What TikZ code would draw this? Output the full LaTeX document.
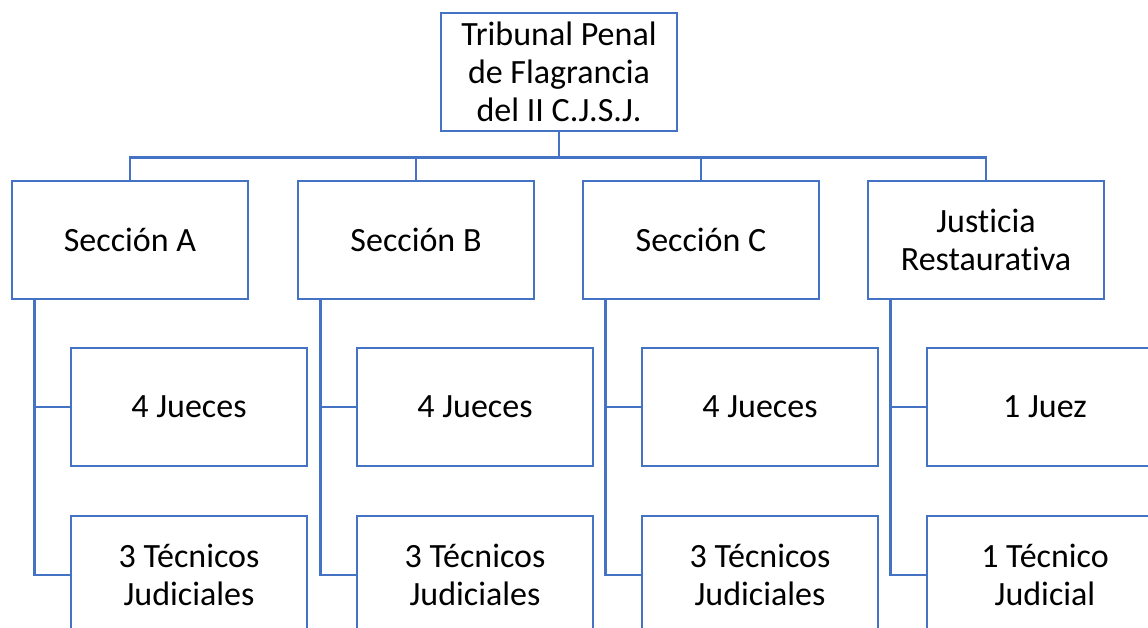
\documentclass[tikz,border=0pt]{standalone}
\usepackage{fontspec}
\setmainfont{Carlito}[Ligatures=NoCommon]
\usetikzlibrary{positioning}
\definecolor{orgblue}{HTML}{4472C4}

\begin{document}
\begin{tikzpicture}[x=1pt,y=-1pt,node distance=168pt,on grid,
    box/.style={draw=orgblue,line width=2.6pt,fill=white,minimum width=236pt,minimum height=118pt,
      inner sep=0pt,align=center,font=\fontsize{34}{38}\selectfont},
    link/.style={draw=orgblue,line width=2.6pt}]
  \useasboundingbox (0,0) rectangle (1148,628);
  \clip (0,0) rectangle (1148,628);
  % head
  \node[box] (head) at (559,72) {Tribunal Penal\\de Flagrancia\\del II C.J.S.J.};
  % sections
  \node[box] (secA) at (130,240) {Sección A};
  \node[box] (secB) [right=286pt of secA] {Sección B};
  \node[box] (secC) [right=285pt of secB] {Sección C};
  \node[box] (secD) [right=285pt of secC] {Justicia\\Restaurativa};
  % staff
  \node[box] (judA) [below right=167pt and 59pt of secA] {4 Jueces};
  \node[box] (tecA) [below=of judA] {3 Técnicos\\Judiciales};
  \node[box] (judB) [below right=167pt and 59pt of secB] {4 Jueces};
  \node[box] (tecB) [below=of judB] {3 Técnicos\\Judiciales};
  \node[box] (judC) [below right=167pt and 59pt of secC] {4 Jueces};
  \node[box] (tecC) [below=of judC] {3 Técnicos\\Judiciales};
  \node[box] (judD) [below right=167pt and 59pt of secD] {1 Juez};
  \node[box] (tecD) [below=of judD] {1 Técnico\\Judicial};
  % connectors
  \foreach \s in {secA,secB,secC,secD}
    \draw[link] (head.south) -- ++(0,25) -| (\s.north);
  \foreach \s/\j/\t in {secA/judA/tecA,secB/judB/tecB,secC/judC/tecC,secD/judD/tecD}{
    \draw[link] ([xshift=24pt]\s.south west) |- (\j.west);
    \draw[link] ([xshift=24pt]\s.south west) |- (\t.west);
  }
\end{tikzpicture}
\end{document}
